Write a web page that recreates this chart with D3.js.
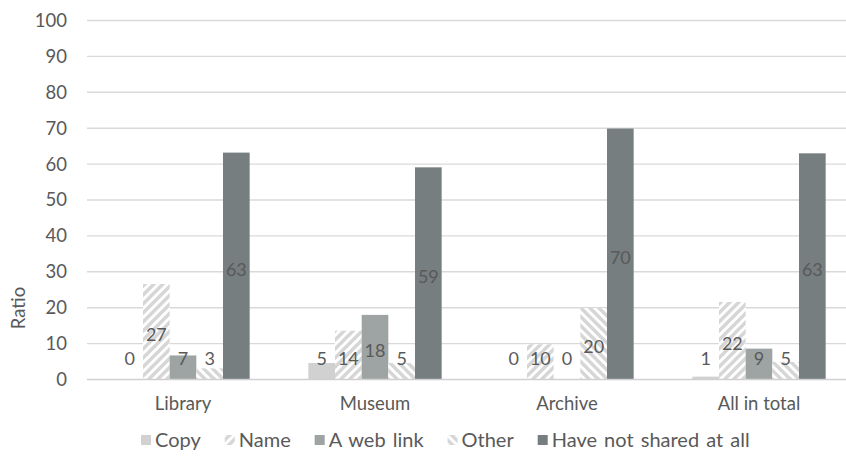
<!DOCTYPE html>
<html>
<head>
<meta charset="utf-8">
<script src="https://cdn.jsdelivr.net/npm/d3@7/dist/d3.min.js"></script>
<style>
  html, body { margin: 0; padding: 0; background: #fff; }
  svg { display: block; font-family: Lato, "Open Sans", sans-serif; }
</style>
</head>
<body>
<svg id="chart" width="846" height="463"></svg>
<script>
// Institutions (x-axis groups)
const categories = ["Library", "Museum", "Archive", "All in total"];
// Ways of sharing (series within each group)
const seriesNames = ["Copy", "Name", "A web link", "Other", "Have not shared at all"];
// Share of respondents (%) per series, in category order
const copyValues   = [0, 4.6, 0, 0.8];
const nameValues   = [26.6, 13.6, 9.8, 21.6];
const webLinkValues = [6.7, 18.0, 0, 8.6];
const otherValues  = [3.1, 4.6, 19.9, 4.9];
const notSharedValues = [63.2, 59.1, 69.9, 63.0];
const yTicks = [0, 10, 20, 30, 40, 50, 60, 70, 80, 90, 100];

const seriesValues = [copyValues, nameValues, webLinkValues, otherValues, notSharedValues];
const rows = categories.map((c, i) => ({
  category: c,
  bars: seriesNames.map((s, j) => ({ series: s, value: seriesValues[j][i] }))
}));

const svg = d3.select("#chart");
const textColor = "#595959";
const gridColor = "#d9d9d9";
const axisFont = 18.5;

// Fills: solid greys and two diagonal hatches
const defs = svg.append("defs");
function hatch(id, forward) {
  const s = 9;
  const p = defs.append("pattern").attr("id", id)
    .attr("patternUnits", "userSpaceOnUse").attr("width", s).attr("height", s);
  p.append("rect").attr("width", s).attr("height", s).attr("fill", "#fff");
  const d = forward
    ? `M0,${s} L${s},0 M${-s / 2},${s / 2} L${s / 2},${-s / 2} M${s / 2},${s * 1.5} L${s * 1.5},${s / 2}`
    : `M0,0 L${s},${s} M${-s / 2},${s / 2} L${s / 2},${s * 1.5} M${s / 2},${-s / 2} L${s * 1.5},${s / 2}`;
  p.append("path").attr("d", d).attr("stroke", "#d6d6d6").attr("stroke-width", 3.4);
}
hatch("hatchName", true);
hatch("hatchOther", false);

const fills = {
  "Copy": "#d0d1d0",
  "Name": "url(#hatchName)",
  "A web link": "#9ea4a4",
  "Other": "url(#hatchOther)",
  "Have not shared at all": "#767e7f"
};

// Scales
const x0 = d3.scaleBand().domain(categories).range([87, 855]).padding(0);
const x1 = d3.scaleBand().domain(seriesNames).range([0, x0.bandwidth()])
  .paddingInner(0).paddingOuter(1.1);
const y = d3.scaleLinear().domain([0, 100]).range([379.5, 20.5]);

// Gridlines
svg.append("g")
  .selectAll("line").data(yTicks.filter(t => t > 0)).join("line")
  .attr("x1", 87).attr("x2", 846)
  .attr("y1", d => y(d)).attr("y2", d => y(d))
  .attr("stroke", gridColor).attr("stroke-width", 1.4);

// Y axis labels
const yAxis = d3.axisLeft(y).tickValues(yTicks).tickSize(0).tickPadding(20);
const yg = svg.append("g").attr("transform", "translate(87,0)").call(yAxis);
yg.select(".domain").remove();
yg.selectAll("text").attr("fill", textColor).attr("font-size", axisFont)
  .attr("font-family", "Lato, sans-serif");

// Y axis title
svg.append("text")
  .attr("transform", "translate(25,308) rotate(-90)")
  .attr("text-anchor", "middle")
  .attr("fill", textColor).attr("font-size", axisFont)
  .text("Ratio");

// Bars
const groups = svg.append("g").selectAll("g").data(rows).join("g")
  .attr("transform", d => `translate(${x0(d.category)},0)`);

groups.selectAll("rect").data(d => d.bars).join("rect")
  .attr("x", d => x1(d.series))
  .attr("width", x1.bandwidth())
  .attr("y", d => y(d.value))
  .attr("height", d => y(0) - y(d.value))
  .attr("fill", d => fills[d.series]);

// Value labels, centred in the bar but kept above the axis
const fmt = d3.format(".0f");
groups.selectAll("text").data(d => d.bars).join("text")
  .attr("x", d => x1(d.series) + x1.bandwidth() / 2)
  .attr("y", d => Math.min((y(d.value) + y(0)) / 2 + 3, 359))
  .attr("dy", "0.36em")
  .attr("text-anchor", "middle")
  .attr("fill", textColor).attr("font-size", 18)
  .text(d => fmt(d.value));

// Baseline
svg.append("line")
  .attr("x1", 87).attr("x2", 846)
  .attr("y1", y(0)).attr("y2", y(0))
  .attr("stroke", "#d0d0d0").attr("stroke-width", 1.6);

// Category labels
const xAxis = d3.axisBottom(x0).tickSize(0).tickPadding(17);
const xg = svg.append("g").attr("transform", `translate(0,${y(0)})`).call(xAxis);
xg.select(".domain").remove();
xg.selectAll("text").attr("fill", textColor).attr("font-size", axisFont)
  .attr("font-family", "Lato, sans-serif");

// Legend
const legend = svg.append("g").attr("transform", "translate(0,440)");
let lx = 141;
seriesNames.forEach(name => {
  const item = legend.append("g").attr("transform", `translate(${lx},0)`);
  item.append("rect").attr("x", 0).attr("y", -5).attr("width", 10).attr("height", 10)
    .attr("fill", fills[name]);
  const t = item.append("text").attr("x", 14).attr("dy", "0.36em")
    .attr("fill", textColor).attr("font-size", 20).attr("word-spacing", 2)
    .text(name);
  lx += 14 + t.node().getComputedTextLength() + 24;
});
</script>
</body>
</html>
